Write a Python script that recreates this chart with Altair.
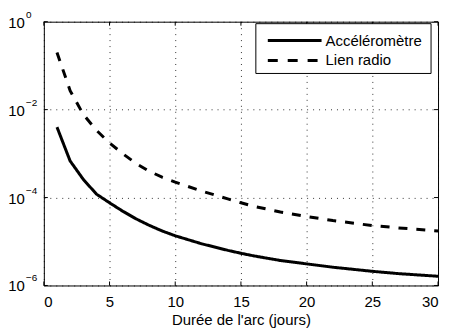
import altair as alt
import pandas as pd

# Data
days = [1, 2, 3, 4, 5, 6, 7, 8, 9, 10, 12, 14, 15, 16, 18, 20, 22, 25, 27, 30]
accel = [4.0e-3, 6.8e-4, 2.6e-4, 1.2e-4, 7.6e-5, 4.9e-5, 3.3e-5, 2.35e-5, 1.74e-5, 1.35e-5,
         8.9e-6, 6.3e-6, 5.4e-6, 4.7e-6, 3.7e-6, 3.1e-6, 2.6e-6, 2.1e-6, 1.86e-6, 1.62e-6]
radio = [0.20, 2.7e-2, 7.8e-3, 3.4e-3, 1.74e-3, 1.0e-3, 6.0e-4, 4.0e-4, 2.9e-4, 2.24e-4,
         1.41e-4, 9.3e-5, 7.6e-5, 6.3e-5, 4.7e-5, 3.7e-5, 3.0e-5, 2.3e-5, 2.04e-5, 1.74e-5]
series_names = ["Accéléromètre", "Lien radio"]
x_ticks = [0, 5, 10, 15, 20, 25, 30]
y_ticks = [1, 1e-2, 1e-4, 1e-6]
y_base = ["10", "10", "10", "10"]
y_exp = ["0", "−2", "−4", "−6"]
x_title = "Durée de l'arc (jours)"

FONT = "Liberation Sans"
W, H = 396, 265

df = pd.DataFrame({
    "x": days * 2,
    "v": accel + radio,
    "series": [series_names[0]] * len(days) + [series_names[1]] * len(days),
})

xscale = alt.Scale(domain=[0, 30], nice=False, zero=False)
yscale = alt.Scale(type="log", domain=[1e-6, 1], nice=False)

xaxis = alt.Axis(values=x_ticks, title=x_title, labelFont=FONT, labelFontSize=15,
                 labelColor="black", titleFont=FONT, titleFontSize=15,
                 titleFontWeight="normal", titleColor="black", titlePadding=3,
                 labelPadding=9, ticks=False, domain=False, grid=True,
                 gridColor="black", gridDash=[1, 5], gridWidth=1, gridOpacity=0.8)
yaxis = alt.Axis(values=y_ticks, title=None, labels=False, ticks=False, domain=False,
                 grid=True, gridColor="black", gridDash=[1, 5], gridWidth=1, gridOpacity=0.8)

lines = alt.Chart(df).mark_line(color="black", strokeWidth=3).encode(
    x=alt.X("x:Q", scale=xscale, axis=xaxis),
    y=alt.Y("v:Q", scale=yscale, axis=yaxis),
    strokeDash=alt.StrokeDash("series:N",
                              scale=alt.Scale(domain=series_names, range=[[1, 0], [9, 9]]),
                              legend=None),
    detail="series:N",
)

xt = pd.DataFrame({"x": x_ticks})
yt = pd.DataFrame({"v": y_ticks, "b": y_base, "e": y_exp})

tick_b = alt.Chart(xt).mark_rule(color="black", strokeWidth=1).encode(
    x=alt.X("x:Q", scale=xscale), y=alt.value(H), y2=alt.value(H - 4))
tick_t = alt.Chart(xt).mark_rule(color="black", strokeWidth=1).encode(
    x=alt.X("x:Q", scale=xscale), y=alt.value(0), y2=alt.value(4))
tick_l = alt.Chart(yt).mark_rule(color="black", strokeWidth=1).encode(
    y=alt.Y("v:Q", scale=yscale), x=alt.value(0), x2=alt.value(4))
tick_r = alt.Chart(yt).mark_rule(color="black", strokeWidth=1).encode(
    y=alt.Y("v:Q", scale=yscale), x=alt.value(W), x2=alt.value(W - 4))

lab_base = alt.Chart(yt).mark_text(align="right", baseline="middle", font=FONT,
                                   fontSize=15, color="black", dy=1).encode(
    y=alt.Y("v:Q", scale=yscale), x=alt.value(-19), text="b:N")
lab_exp = alt.Chart(yt).mark_text(align="left", baseline="middle", font=FONT,
                                  fontSize=10, color="black", dy=-7).encode(
    y=alt.Y("v:Q", scale=yscale), x=alt.value(-18), text="e:N")

one = pd.DataFrame({"a": [0]})
leg_box = alt.Chart(one).mark_rect(fill="white", stroke="black", strokeWidth=1).encode(
    x=alt.value(213), x2=alt.value(389), y=alt.value(2), y2=alt.value(52))
leg_l1 = alt.Chart(one).mark_rule(color="black", strokeWidth=3).encode(
    x=alt.value(225), x2=alt.value(279), y=alt.value(19))
leg_l2 = alt.Chart(one).mark_rule(color="black", strokeWidth=3, strokeDash=[10, 10]).encode(
    x=alt.value(225), x2=alt.value(279), y=alt.value(39))
leg_t1 = alt.Chart(pd.DataFrame({"label": [series_names[0]]})).mark_text(
    align="left", baseline="middle", font=FONT, fontSize=15, color="black").encode(
    x=alt.value(283), y=alt.value(19), text="label:N")
leg_t2 = alt.Chart(pd.DataFrame({"label": [series_names[1]]})).mark_text(
    align="left", baseline="middle", font=FONT, fontSize=15, color="black").encode(
    x=alt.value(283), y=alt.value(39), text="label:N")

chart = alt.layer(
    lines, tick_b, tick_t, tick_l, tick_r, lab_base, lab_exp,
    leg_box, leg_l1, leg_l2, leg_t1, leg_t2,
).properties(
    width=W, height=H,
    autosize=alt.AutoSizeParams(type="none"),
    padding={"left": 36, "top": 13, "right": 4, "bottom": 50},
).configure_view(stroke="black", strokeWidth=1)

chart.save("out.html", embed_options={"renderer": "svg", "actions": False})
